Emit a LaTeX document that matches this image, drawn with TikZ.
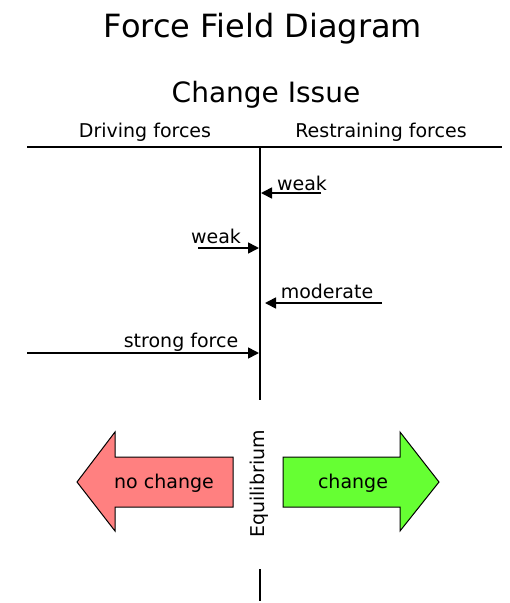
\documentclass[tikz,border=0pt]{standalone}
\usepackage{fontspec}
\setmainfont{DejaVu Sans}
\usetikzlibrary{arrows.meta}
\begin{document}
\begin{tikzpicture}[x=1pt,y=-1pt,
  lbl/.style={inner sep=0pt,anchor=base,font=\fontsize{19}{19}\selectfont},
  rule/.style={line width=1.6pt},
  force/.style={line width=1.6pt,-{Triangle[length=11pt,width=11pt]}},
  bigarrow/.style={draw=black,line width=1pt,line join=miter}]
\useasboundingbox (0,0) rectangle (510,603);

% headings
\node[inner sep=0pt,anchor=base,font=\fontsize{32}{32}\selectfont] (title) at (263,37) {Force Field Diagram};
\node[inner sep=0pt,anchor=base,font=\fontsize{28}{28}\selectfont] (issue) at (266,102) {Change Issue};
\node[lbl] (driving) at (145,137) {Driving forces};
\node[lbl] (restraining) at (381,137) {Restraining forces};

% axes of the field
\coordinate (hl) at (27,147);
\coordinate (hr) at (502,147);
\coordinate (vt) at (260,147);
\coordinate (vb) at (260,400);
\coordinate (ft) at (260,569);
\coordinate (fb) at (260,601);
\draw[rule] (hl) -- (hr);
\draw[rule] (vt) -- (vb);
\draw[rule] (ft) -- (fb);

% restraining forces (right side)
\coordinate (r1s) at (321,193);
\coordinate (r1e) at (261,193);
\draw[force] (r1s) -- (r1e);
\node[lbl] (r1) at (302,190) {weak};

\coordinate (r2s) at (382,303);
\coordinate (r2e) at (265,303);
\draw[force] (r2s) -- (r2e);
\node[lbl] (r2) at (327,298) {moderate};

% driving forces (left side)
\coordinate (d1s) at (198,248);
\coordinate (d1e) at (259,248);
\draw[force] (d1s) -- (d1e);
\node[lbl] (d1) at (216,243) {weak};

\coordinate (d2s) at (27,353);
\coordinate (d2e) at (259,353);
\draw[force] (d2s) -- (d2e);
\node[lbl] (d2) at (181,347) {strong force};

% outcome arrows
\draw[bigarrow,fill={rgb,255:red,255;green,128;blue,128}]
  (77,482) -- (115,432) -- (115,457) -- (233,457) -- (233,507) -- (115,507) -- (115,531) -- cycle;
\draw[bigarrow,fill={rgb,255:red,102;green,255;blue,51}]
  (439,482) -- (400,432) -- (400,457) -- (283,457) -- (283,507) -- (400,507) -- (400,531) -- cycle;
\node[lbl] (nochange) at (164,488) {no change};
\node[lbl] (change) at (353,488) {change};
\node[inner sep=0pt,rotate=90,font=\fontsize{19}{19}\selectfont] (equil) at (259,484) {Equilibrium};
\end{tikzpicture}
\end{document}
